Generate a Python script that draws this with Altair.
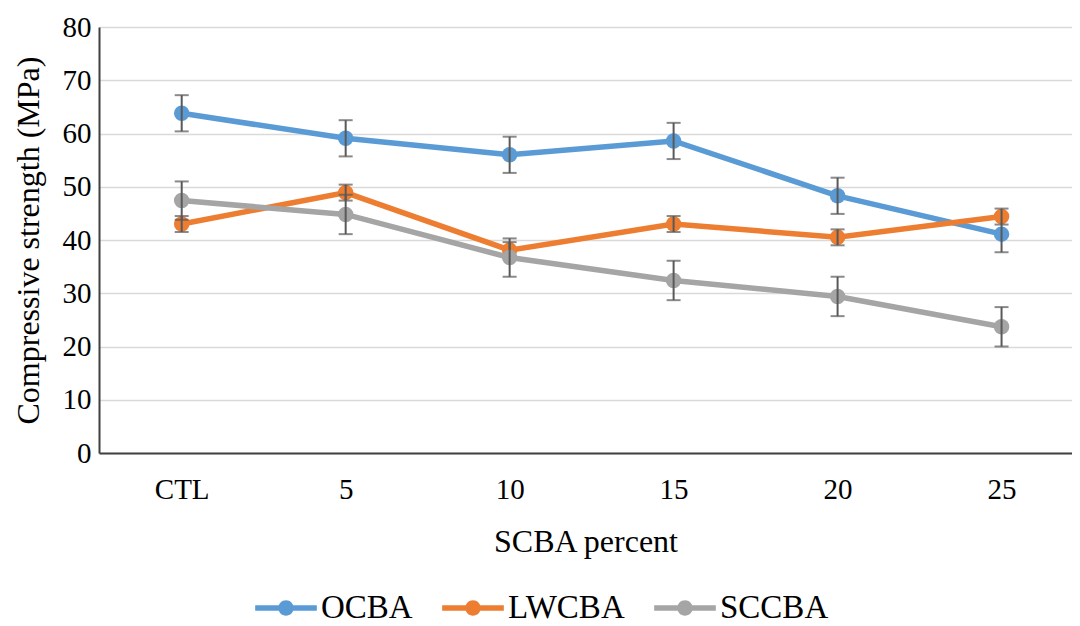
import altair as alt
import pandas as pd

categories = ["CTL", "5", "10", "15", "20", "25"]
series_names = ["OCBA", "LWCBA", "SCCBA"]
series_colors = ["#5B9BD5", "#ED7D31", "#A5A5A5"]

ocba = [63.8, 59.1, 56.0, 58.6, 48.3, 41.1]
ocba_err = [3.4, 3.4, 3.4, 3.4, 3.4, 3.4]
lwcba = [43.0, 48.9, 38.1, 43.0, 40.5, 44.4]
lwcba_err = [1.5, 1.5, 1.5, 1.5, 1.5, 1.5]
sccba = [47.4, 44.8, 36.7, 32.4, 29.4, 23.7]
sccba_err = [3.6, 3.7, 3.6, 3.7, 3.7, 3.7]

rows = []
for name, vals, errs in [("OCBA", ocba, ocba_err), ("LWCBA", lwcba, lwcba_err), ("SCCBA", sccba, sccba_err)]:
    for c, v, e in zip(categories, vals, errs):
        rows.append({"cat": c, "series": name, "value": v, "lo": v - e, "hi": v + e})
df = pd.DataFrame(rows)

FONT = "Liberation Serif"
x_enc = alt.X("cat:N", sort=categories, title="SCBA percent",
              scale=alt.Scale(type="point", padding=0.467, align=0.54))
y_scale = alt.Scale(domain=[0, 80])

legend_path = ("M-1,-0.09 L1,-0.09 L1,0.09 L-1,0.09 Z "
               "M-0.25,0 A0.25,0.25 0 1,1 0.25,0 A0.25,0.25 0 1,1 -0.25,0 Z")

layers = []
for name, col in zip(series_names, series_colors):
    base = alt.Chart(df).transform_filter(alt.datum.series == name)
    line = base.mark_line(strokeWidth=5.5, color=col).encode(
        x=x_enc,
        y=alt.Y("value:Q", scale=y_scale, title="Compressive strength (MPa)",
                axis=alt.Axis(values=list(range(0, 81, 10)))),
    )
    pts = base.mark_point(filled=True, size=240, opacity=1, strokeWidth=0).encode(
        x=x_enc,
        y=alt.Y("value:Q", scale=y_scale),
        color=alt.Color("series:N",
                        scale=alt.Scale(domain=series_names, range=series_colors),
                        legend=alt.Legend(title=None, orient="none", direction="horizontal",
                                          legendX=156, legendY=550,
                                          symbolType=legend_path, symbolSize=3800,
                                          symbolStrokeWidth=0, labelFont=FONT,
                                          labelFontSize=33, labelColor="#000000",
                                          labelOffset=4, columnPadding=29)),
    )
    rule = base.mark_rule(color="#595959", strokeWidth=2).encode(
        x=x_enc, y=alt.Y("lo:Q", scale=y_scale), y2="hi:Q")
    cap_lo = base.mark_tick(color="#595959", thickness=2, size=14, orient="horizontal").encode(
        x=x_enc, y=alt.Y("lo:Q", scale=y_scale))
    cap_hi = base.mark_tick(color="#595959", thickness=2, size=14, orient="horizontal").encode(
        x=x_enc, y=alt.Y("hi:Q", scale=y_scale))
    layers += [line, pts, rule, cap_lo, cap_hi]

chart = alt.layer(*layers).properties(
    width=973, height=426,
    autosize=alt.AutoSizeParams(type="none"),
    padding={"left": 91, "top": 19, "right": 0, "bottom": 172},
).configure_view(stroke=None).configure_axisY(
    labelFont=FONT, labelFontSize=29, labelColor="#000000", labelPadding=8,
    titleFont=FONT, titleFontSize=32, titleFontWeight="normal", titleColor="#000000",
    titlePadding=17, grid=True, gridColor="#D9D9D9", gridWidth=1.5,
    domainColor="#404040", domainWidth=2, ticks=False,
).configure_axisX(
    labelFont=FONT, labelFontSize=29, labelColor="#000000", labelPadding=22, labelAngle=0,
    titleFont=FONT, titleFontSize=32, titleFontWeight="normal", titleColor="#000000",
    titlePadding=22, grid=False, domainColor="#404040", domainWidth=2, ticks=False,
)

chart.save("out.html", embed_options={"renderer": "svg", "actions": False})
